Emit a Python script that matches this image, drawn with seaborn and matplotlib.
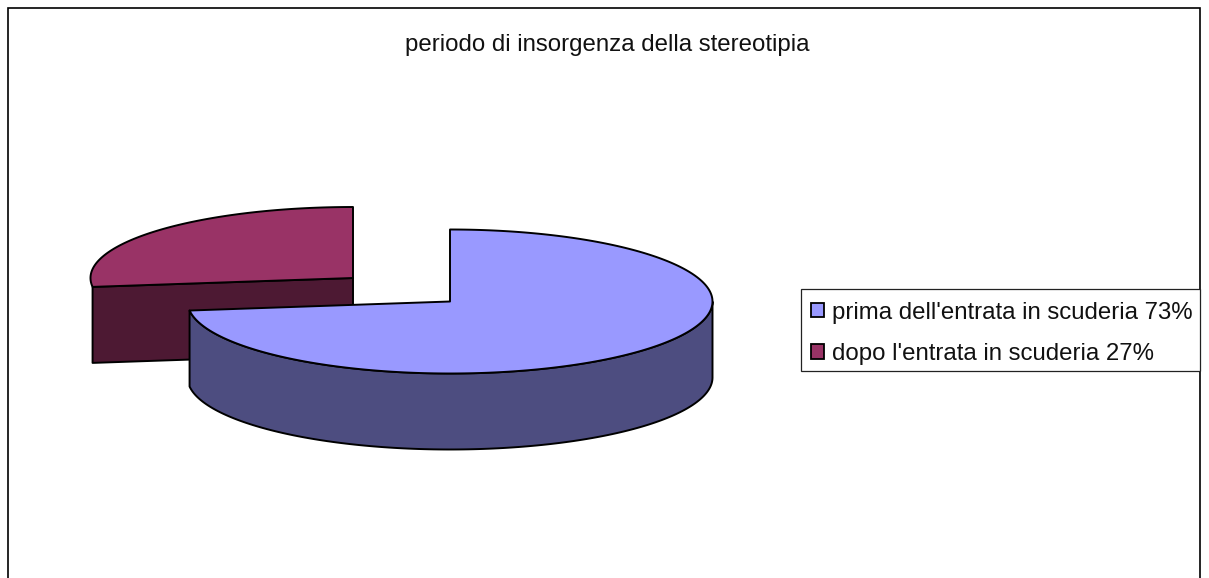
import numpy as np
import matplotlib
matplotlib.use("Agg")
import matplotlib.pyplot as plt
from matplotlib.patches import Patch, Rectangle
import seaborn as sns

labels = ["prima dell'entrata in scuderia 73%", "dopo l'entrata in scuderia 27%"]
values = [73, 27]
title = "periodo di insorgenza della stereotipia"
top_colors = ["#9999FF", "#993366"]
side_colors = ["#4D4D80", "#4D1933"]

sns.set_theme(style="white")
plt.rcParams["font.family"] = ["Liberation Sans", "DejaVu Sans"]

W, H = 1209, 578
fig = plt.figure(figsize=(W / 100, H / 100), dpi=100, facecolor="white")
ax = fig.add_axes([0, 0, 1, 1])
ax.set_xlim(0, W)
ax.set_ylim(H, 0)
ax.axis("off")

ax.add_patch(Rectangle((8, 8), 1192, 600, fc="white", ec="black", lw=1.2, clip_on=True))
ax.text(607, 45, title, ha="center", va="center", fontsize=17.25, color="#111111")

shares = np.array(values) / sum(values) * 2 * np.pi
centers = [(450, 301.5), (353, 278)]
radii_y = [72, 71]
RX, DEPTH = 262.5, 76
EDGE = dict(edgecolor="black", linewidth=1.4, joinstyle="round")


def pt(c, ry, a):
    return c[0] + RX * np.sin(a), c[1] - ry * np.cos(a)


# second slice (drawn first, it sits behind)
c, ry = centers[1], radii_y[1]
a0, a1 = shares[0], 2 * np.pi
t = np.linspace(a0, a1, 120)
x, y = pt(c, ry, t)
ex, ey = pt(c, ry, a0)
ax.fill([ex, c[0], c[0], ex], [ey, c[1], c[1] + DEPTH, ey + DEPTH], color=side_colors[1], **EDGE)
ax.fill(np.r_[c[0], x], np.r_[c[1], y], color=top_colors[1], **EDGE)

# first slice
c, ry = centers[0], radii_y[0]
a0, a1 = 0, shares[0]
t = np.linspace(a0, a1, 240)
x, y = pt(c, ry, t)
vis = (t > np.pi / 2)
sx, sy = x[vis], y[vis]
ax.fill(np.r_[sx, sx[::-1]], np.r_[sy, sy[::-1] + DEPTH], color=side_colors[0], **EDGE)
ax.fill(np.r_[c[0], x], np.r_[c[1], y], color=top_colors[0], **EDGE)

ax.add_patch(Rectangle((801, 289), 399, 82, fc="white", ec="#222222", lw=0.9, zorder=3))
handles = [Patch(facecolor=f, edgecolor="black", linewidth=1.3) for f in top_colors]
leg = ax.legend(handles, labels, loc="upper left", bbox_to_anchor=(802 / W, 1 - 293 / H),
                bbox_transform=ax.transAxes, frameon=False,
                fontsize=17.3, handlelength=0.54, handleheight=0.54,
                handletextpad=0.33, labelspacing=0.81, borderpad=0.36, borderaxespad=0)
leg.set_zorder(4)
for tx in leg.get_texts():
    tx.set_color("#111111")

fig.savefig("out.png", dpi=100)
